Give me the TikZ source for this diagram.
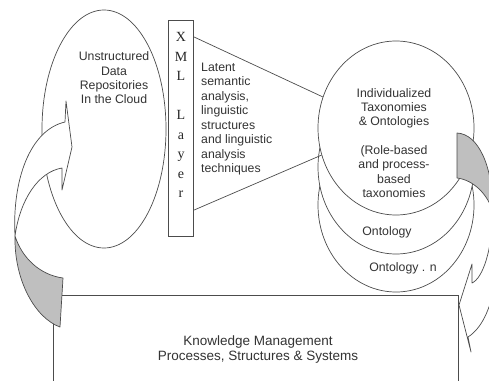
\documentclass[tikz,border=0pt]{standalone}
\usepackage{fontspec}
\setmainfont{Liberation Sans}
\newfontfamily\xmlfont{Liberation Serif}
\usepackage{tikz}
\usetikzlibrary{shapes.geometric}

\begin{document}
\begin{tikzpicture}[x=1pt, y=-1pt,
    blob/.style={ellipse, draw=black!70, line width=0.7pt, fill=white, inner sep=0pt},
    box/.style={rectangle, draw=black!70, line width=0.7pt, fill=white, inner sep=0pt},
    edge/.style={draw=black!70, line width=0.7pt},
    band/.style={draw=black!70, line width=0.7pt, line join=round},
    txt/.style={font=\fontsize{12.3}{14.3}\selectfont, align=center, text=black!80, inner sep=0pt}
]
\useasboundingbox (0,0) rectangle (489,380);
\clip (0,0) rectangle (489,380);

\node[box, anchor=north west, minimum width=405pt, minimum height=100pt] (km) at (53,295) {};
\node[blob, minimum width=124pt, minimum height=238pt] (cloud) at (104,129) {};
\node[box, minimum width=25pt, minimum height=216pt] (xml) at (180.5,128) {};

% taxonomy stack, back to front
\node[blob, minimum width=156pt, minimum height=174pt] (ont3) at (396,205) {};
\node[blob, minimum width=156pt, minimum height=174pt] (ont2) at (396,167) {};
\node[blob, minimum width=156pt, minimum height=174pt] (ont1) at (396,128) {};

\coordinate (xmlA) at ([yshift=-17pt]xml.north east);
\coordinate (xmlB) at ([yshift=26pt]xml.south east);
\draw[edge] (xmlA) -- (ont1.157);
\draw[edge] (xmlB) -- (ont1.200);

% left curved arrow
\draw[band, fill=black!25] (15,236) .. controls (14,280) and (35,318) .. (60,327)
    -- (63,278) .. controls (40,275) and (22,258) .. cycle;
\draw[band, fill=white] (15,236) .. controls (12,180) and (30,130) .. (65,122)
    -- (66,101) -- (72,147) -- (62,190) -- (62,168)
    .. controls (38,172) and (20,200) .. cycle;

% right curved arrow
\draw[band, fill=black!25] (457,133) .. controls (478,134) and (493,165) .. (493,212)
    .. controls (488,195) and (474,180) .. (457,178) -- cycle;
\draw[band, fill=white] (493,212) .. controls (503,260) and (495,320) .. (468,337)
    -- (471,352) -- (459,305) -- (472,264) -- (472,283)
    .. controls (483,278) and (492,250) .. cycle;

% labels
\node[txt] (cloudtxt) at (114,78) {Unstructured\\Data\\Repositories\\In the Cloud};
\node[font=\xmlfont\fontsize{14}{19.5}\selectfont, align=center, text=black!85, inner sep=0pt]
    (xmltxt) at (181,115) {X\\M\\L\\[19.5pt]L\\a\\y\\e\\r};
\node[txt, align=left, anchor=west, font=\fontsize{12.3}{14.5}\selectfont] (lsa) at (201,119)
    {Latent\\semantic\\analysis,\\linguistic\\structures\\and linguistic\\analysis\\techniques};
\node[txt] (taxtxt) at (394,143)
    {Individualized\\Taxonomies\\\& Ontologies\\[14.3pt](Role-based\\and process-\\based\\taxonomies};
\node[txt] (ont2txt) at (387,232) {Ontology};
\node[txt] (ont3txt) at (403,268) {Ontology . n};
\node[txt, font=\fontsize{13.5}{15}\selectfont] (kmtxt) at (258,349.5)
    {Knowledge Management\\Processes, Structures \& Systems};
\end{tikzpicture}
\end{document}
